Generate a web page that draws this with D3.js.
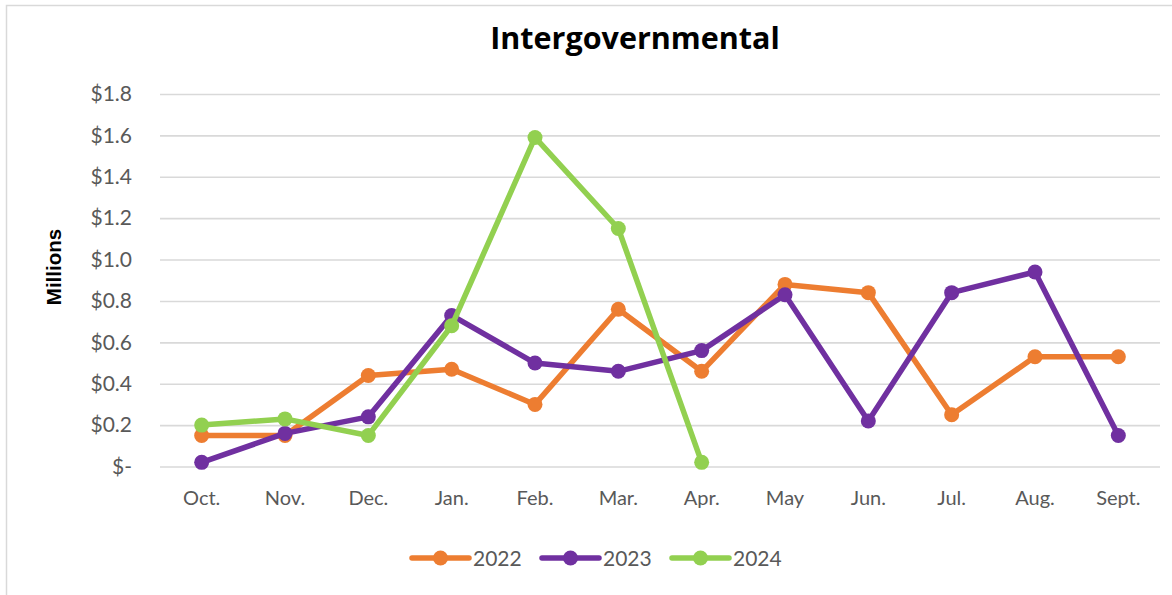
<!DOCTYPE html>
<html>
<head>
<meta charset="utf-8">
<script src="https://cdn.jsdelivr.net/npm/d3@7"></script>
<style>
  html, body { margin: 0; padding: 0; background: #fff; }
  svg { display: block; }
</style>
</head>
<body>
<svg id="chart" width="1172" height="595"></svg>
<script>
// Monthly intergovernmental revenue, fiscal year Oct–Sept, in $ millions
const months = ["Oct.", "Nov.", "Dec.", "Jan.", "Feb.", "Mar.", "Apr.", "May", "Jun.", "Jul.", "Aug.", "Sept."];
const years = ["2022", "2023", "2024"];
const values2022 = [0.15, 0.15, 0.44, 0.47, 0.30, 0.76, 0.46, 0.88, 0.84, 0.25, 0.53, 0.53];
const values2023 = [0.02, 0.16, 0.24, 0.73, 0.50, 0.46, 0.56, 0.83, 0.22, 0.84, 0.94, 0.15];
const values2024 = [0.20, 0.23, 0.15, 0.68, 1.59, 1.15, 0.02];
const yTicks = [0, 0.2, 0.4, 0.6, 0.8, 1.0, 1.2, 1.4, 1.6, 1.8];
const colors = ["#ED7D31", "#7030A0", "#92D050"];

const series = [values2022, values2023, values2024].map((vals, i) => ({
  name: years[i],
  color: colors[i],
  points: vals.map((v, j) => ({ month: months[j], value: v }))
}));

const svg = d3.select("#chart");
const plot = { left: 160, right: 1160, top: 94, bottom: 466.5 };

// chart area border
svg.append("rect")
  .attr("x", 6.5).attr("y", 5.5)
  .attr("width", 1200).attr("height", 600)
  .attr("fill", "none")
  .attr("stroke", "#d9d9d9")
  .attr("stroke-width", 1.5);

const x = d3.scaleBand().domain(months).range([plot.left, plot.right]);
const y = d3.scaleLinear().domain([0, 1.8]).range([plot.bottom, plot.top]);
const cx = m => x(m) + x.bandwidth() / 2;

// horizontal gridlines and dollar labels
const yAxis = d3.axisLeft(y)
  .tickValues(yTicks)
  .tickSize(-(plot.right - plot.left))
  .tickPadding(28)
  .tickFormat(d => d === 0 ? "$-" : "$" + d.toFixed(1));

const gy = svg.append("g")
  .attr("transform", `translate(${plot.left},0)`)
  .call(yAxis);
gy.select(".domain").remove();
gy.selectAll(".tick line").attr("stroke", "#d9d9d9").attr("stroke-width", 1.6);
gy.selectAll(".tick text")
  .attr("fill", "#595959")
  .style("font-family", "Lato, sans-serif")
  .style("font-size", "21px");

// month labels
const xAxis = d3.axisBottom(x).tickSize(0).tickPadding(24);
const gx = svg.append("g")
  .attr("transform", `translate(0,${plot.bottom})`)
  .call(xAxis);
gx.select(".domain").remove();
gx.selectAll(".tick text")
  .attr("fill", "#595959")
  .style("font-family", "Lato, sans-serif")
  .style("font-size", "20px");

// series lines and markers
const line = d3.line().x(d => cx(d.month)).y(d => y(d.value));

const g = svg.append("g");
series.forEach(s => {
  g.append("path")
    .datum(s.points)
    .attr("d", line)
    .attr("fill", "none")
    .attr("stroke", s.color)
    .attr("stroke-width", 5.5)
    .attr("stroke-linejoin", "round")
    .attr("stroke-linecap", "round");
  g.selectAll(null)
    .data(s.points)
    .enter().append("circle")
    .attr("cx", d => cx(d.month))
    .attr("cy", d => y(d.value))
    .attr("r", 7.5)
    .attr("fill", s.color);
});

// title
svg.append("text")
  .attr("x", 635).attr("y", 49)
  .attr("text-anchor", "middle")
  .style("font-family", "'Open Sans', sans-serif")
  .style("font-weight", "bold")
  .style("font-size", "30.5px")
  .attr("fill", "#000")
  .text("Intergovernmental");

// y axis title
svg.append("text")
  .attr("transform", "translate(61,267) rotate(-90)")
  .attr("text-anchor", "middle")
  .style("font-family", "'Liberation Sans', Arial, sans-serif")
  .style("font-weight", "bold")
  .style("font-size", "20.5px")
  .attr("fill", "#000")
  .text("Millions");

// legend
const legendX = [412, 542, 672];
const legend = svg.append("g");
series.forEach((s, i) => {
  const lg = legend.append("g").attr("transform", `translate(${legendX[i]},558)`);
  lg.append("line")
    .attr("x1", 0).attr("x2", 57)
    .attr("stroke", s.color).attr("stroke-width", 5.5)
    .attr("stroke-linecap", "round");
  lg.append("circle").attr("cx", 28.5).attr("r", 7.5).attr("fill", s.color);
  lg.append("text")
    .attr("x", 61).attr("y", 7.5)
    .attr("fill", "#595959")
    .style("font-family", "Lato, sans-serif")
    .style("font-size", "21px")
    .text(s.name);
});
</script>
</body>
</html>
